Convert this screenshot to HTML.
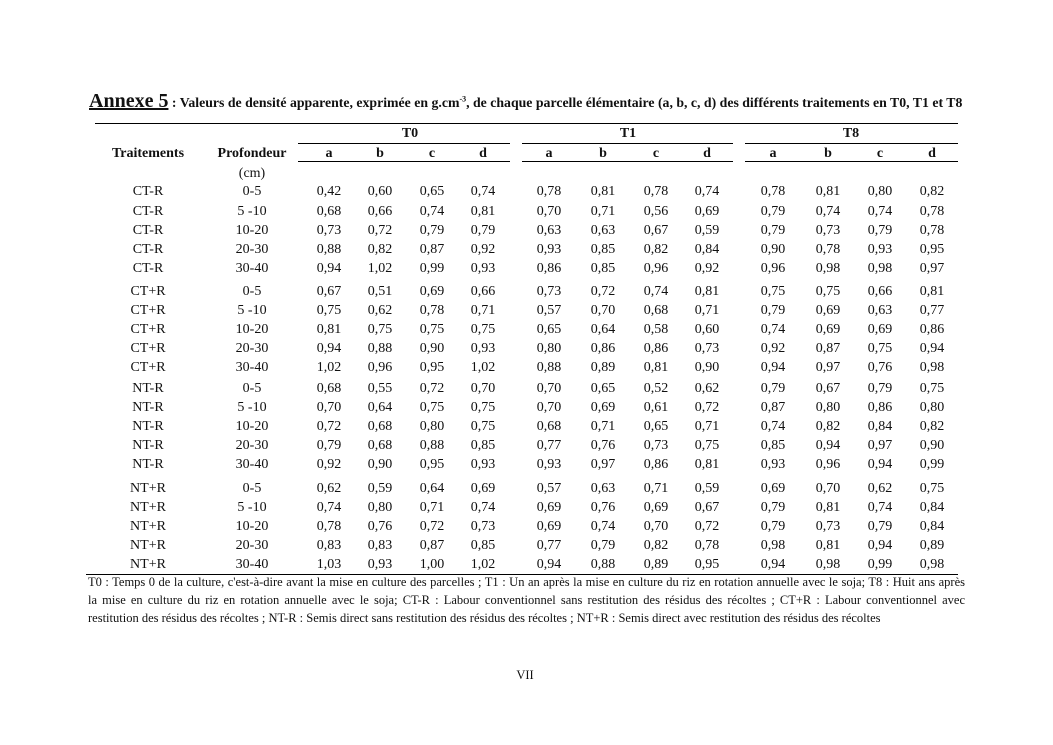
<!DOCTYPE html>
<html><head><meta charset="utf-8"><style>
body{margin:0;width:1053px;height:745px;background:#fff;position:relative;font-family:"Liberation Serif",serif;color:#111;overflow:hidden}
.a{position:absolute}
.ln{position:absolute;height:1px;background:#000}
.r{position:absolute;left:0;width:1053px;height:18px;font-size:14px;line-height:18px;margin-top:2px}
.r span{position:absolute;width:70px;margin-left:-35px;text-align:center;top:0}
.r span:nth-child(1){left:148px;width:90px;margin-left:-45px}
.r span:nth-child(2){left:252px}
.r span:nth-child(3){left:329px}.r span:nth-child(4){left:380px}.r span:nth-child(5){left:432px}.r span:nth-child(6){left:483px}
.r span:nth-child(7){left:549px}.r span:nth-child(8){left:603px}.r span:nth-child(9){left:656px}.r span:nth-child(10){left:707px}
.r span:nth-child(11){left:773px}.r span:nth-child(12){left:828px}.r span:nth-child(13){left:880px}.r span:nth-child(14){left:932px}
.h{font-weight:bold}
.fn{position:absolute;left:88px;width:877px;font-size:12.5px;line-height:18px;text-align:justify;text-align-last:justify;white-space:nowrap}
</style></head><body>
<div class="a" style="left:89px;top:90px;white-space:nowrap;font-weight:bold"><span style="font-size:20px;text-decoration:underline">Annexe 5</span><span style="font-size:13.8px"> : Valeurs de densité apparente, exprimée en g.cm<sup style="font-size:8px">-3</sup>, de chaque parcelle élémentaire (a, b, c, d) des différents traitements en T0, T1 et T8</span></div>
<div class="ln" style="left:95px;top:123px;width:863px"></div>
<div class="ln" style="left:298px;top:143px;width:212px"></div>
<div class="ln" style="left:522px;top:143px;width:211px"></div>
<div class="ln" style="left:745px;top:143px;width:213px"></div>
<div class="ln" style="left:298px;top:161px;width:212px"></div>
<div class="ln" style="left:522px;top:161px;width:211px"></div>
<div class="ln" style="left:745px;top:161px;width:213px"></div>
<div class="ln" style="left:86px;top:574px;width:872px"></div>
<div class="a h" style="left:380px;top:126px;width:60px;text-align:center;font-size:14px">T0</div>
<div class="a h" style="left:598px;top:126px;width:60px;text-align:center;font-size:14px">T1</div>
<div class="a h" style="left:821px;top:126px;width:60px;text-align:center;font-size:14px">T8</div>
<div class="r h" style="top:143px"><span>Traitements</span><span style="width:90px;margin-left:-45px">Profondeur</span><span>a</span><span>b</span><span>c</span><span>d</span><span>a</span><span>b</span><span>c</span><span>d</span><span>a</span><span>b</span><span>c</span><span>d</span></div>
<div class="r" style="top:163px"><span></span><span>(cm)</span></div>
<div class="r" style="top:181px"><span>CT-R</span><span>0-5</span><span>0,42</span><span>0,60</span><span>0,65</span><span>0,74</span><span>0,78</span><span>0,81</span><span>0,78</span><span>0,74</span><span>0,78</span><span>0,81</span><span>0,80</span><span>0,82</span></div>
<div class="r" style="top:201px"><span>CT-R</span><span>5 -10</span><span>0,68</span><span>0,66</span><span>0,74</span><span>0,81</span><span>0,70</span><span>0,71</span><span>0,56</span><span>0,69</span><span>0,79</span><span>0,74</span><span>0,74</span><span>0,78</span></div>
<div class="r" style="top:220px"><span>CT-R</span><span>10-20</span><span>0,73</span><span>0,72</span><span>0,79</span><span>0,79</span><span>0,63</span><span>0,63</span><span>0,67</span><span>0,59</span><span>0,79</span><span>0,73</span><span>0,79</span><span>0,78</span></div>
<div class="r" style="top:239px"><span>CT-R</span><span>20-30</span><span>0,88</span><span>0,82</span><span>0,87</span><span>0,92</span><span>0,93</span><span>0,85</span><span>0,82</span><span>0,84</span><span>0,90</span><span>0,78</span><span>0,93</span><span>0,95</span></div>
<div class="r" style="top:258px"><span>CT-R</span><span>30-40</span><span>0,94</span><span>1,02</span><span>0,99</span><span>0,93</span><span>0,86</span><span>0,85</span><span>0,96</span><span>0,92</span><span>0,96</span><span>0,98</span><span>0,98</span><span>0,97</span></div>
<div class="r" style="top:281px"><span>CT+R</span><span>0-5</span><span>0,67</span><span>0,51</span><span>0,69</span><span>0,66</span><span>0,73</span><span>0,72</span><span>0,74</span><span>0,81</span><span>0,75</span><span>0,75</span><span>0,66</span><span>0,81</span></div>
<div class="r" style="top:300px"><span>CT+R</span><span>5 -10</span><span>0,75</span><span>0,62</span><span>0,78</span><span>0,71</span><span>0,57</span><span>0,70</span><span>0,68</span><span>0,71</span><span>0,79</span><span>0,69</span><span>0,63</span><span>0,77</span></div>
<div class="r" style="top:319px"><span>CT+R</span><span>10-20</span><span>0,81</span><span>0,75</span><span>0,75</span><span>0,75</span><span>0,65</span><span>0,64</span><span>0,58</span><span>0,60</span><span>0,74</span><span>0,69</span><span>0,69</span><span>0,86</span></div>
<div class="r" style="top:338px"><span>CT+R</span><span>20-30</span><span>0,94</span><span>0,88</span><span>0,90</span><span>0,93</span><span>0,80</span><span>0,86</span><span>0,86</span><span>0,73</span><span>0,92</span><span>0,87</span><span>0,75</span><span>0,94</span></div>
<div class="r" style="top:357px"><span>CT+R</span><span>30-40</span><span>1,02</span><span>0,96</span><span>0,95</span><span>1,02</span><span>0,88</span><span>0,89</span><span>0,81</span><span>0,90</span><span>0,94</span><span>0,97</span><span>0,76</span><span>0,98</span></div>
<div class="r" style="top:378px"><span>NT-R</span><span>0-5</span><span>0,68</span><span>0,55</span><span>0,72</span><span>0,70</span><span>0,70</span><span>0,65</span><span>0,52</span><span>0,62</span><span>0,79</span><span>0,67</span><span>0,79</span><span>0,75</span></div>
<div class="r" style="top:397px"><span>NT-R</span><span>5 -10</span><span>0,70</span><span>0,64</span><span>0,75</span><span>0,75</span><span>0,70</span><span>0,69</span><span>0,61</span><span>0,72</span><span>0,87</span><span>0,80</span><span>0,86</span><span>0,80</span></div>
<div class="r" style="top:416px"><span>NT-R</span><span>10-20</span><span>0,72</span><span>0,68</span><span>0,80</span><span>0,75</span><span>0,68</span><span>0,71</span><span>0,65</span><span>0,71</span><span>0,74</span><span>0,82</span><span>0,84</span><span>0,82</span></div>
<div class="r" style="top:435px"><span>NT-R</span><span>20-30</span><span>0,79</span><span>0,68</span><span>0,88</span><span>0,85</span><span>0,77</span><span>0,76</span><span>0,73</span><span>0,75</span><span>0,85</span><span>0,94</span><span>0,97</span><span>0,90</span></div>
<div class="r" style="top:454px"><span>NT-R</span><span>30-40</span><span>0,92</span><span>0,90</span><span>0,95</span><span>0,93</span><span>0,93</span><span>0,97</span><span>0,86</span><span>0,81</span><span>0,93</span><span>0,96</span><span>0,94</span><span>0,99</span></div>
<div class="r" style="top:478px"><span>NT+R</span><span>0-5</span><span>0,62</span><span>0,59</span><span>0,64</span><span>0,69</span><span>0,57</span><span>0,63</span><span>0,71</span><span>0,59</span><span>0,69</span><span>0,70</span><span>0,62</span><span>0,75</span></div>
<div class="r" style="top:497px"><span>NT+R</span><span>5 -10</span><span>0,74</span><span>0,80</span><span>0,71</span><span>0,74</span><span>0,69</span><span>0,76</span><span>0,69</span><span>0,67</span><span>0,79</span><span>0,81</span><span>0,74</span><span>0,84</span></div>
<div class="r" style="top:516px"><span>NT+R</span><span>10-20</span><span>0,78</span><span>0,76</span><span>0,72</span><span>0,73</span><span>0,69</span><span>0,74</span><span>0,70</span><span>0,72</span><span>0,79</span><span>0,73</span><span>0,79</span><span>0,84</span></div>
<div class="r" style="top:535px"><span>NT+R</span><span>20-30</span><span>0,83</span><span>0,83</span><span>0,87</span><span>0,85</span><span>0,77</span><span>0,79</span><span>0,82</span><span>0,78</span><span>0,98</span><span>0,81</span><span>0,94</span><span>0,89</span></div>
<div class="r" style="top:554px"><span>NT+R</span><span>30-40</span><span>1,03</span><span>0,93</span><span>1,00</span><span>1,02</span><span>0,94</span><span>0,88</span><span>0,89</span><span>0,95</span><span>0,94</span><span>0,98</span><span>0,99</span><span>0,98</span></div>
<div class="fn" style="top:573px">T0 : Temps 0 de la culture, c'est-à-dire avant la mise en culture des parcelles ; T1 : Un an après la mise en culture du riz en rotation annuelle avec le soja; T8 : Huit ans après</div>
<div class="fn" style="top:591px">la mise en culture du riz en rotation annuelle avec le soja; CT-R : Labour conventionnel sans restitution des résidus des récoltes ; CT+R : Labour conventionnel avec</div>
<div class="fn" style="top:609px;text-align-last:left">restitution des résidus des récoltes ; NT-R : Semis direct sans restitution des résidus des récoltes ; NT+R : Semis direct avec restitution des résidus des récoltes</div>
<div class="a" style="left:505px;top:668px;width:40px;text-align:center;font-size:12.5px">VII</div>
</body></html>
